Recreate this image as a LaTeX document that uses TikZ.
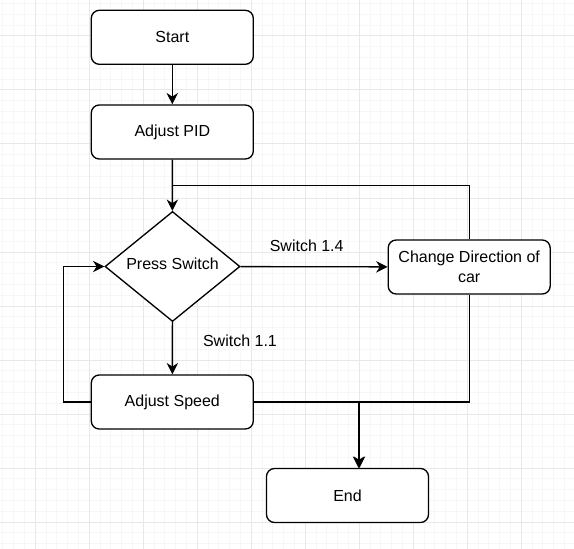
\documentclass[tikz,border=0pt]{standalone}
\usepackage{fontspec}
\setmainfont{Liberation Sans}
\usetikzlibrary{shapes.geometric, arrows.meta}

\begin{document}
\begin{tikzpicture}[x=0.75pt, y=-0.75pt,
    process/.style={draw, line width=1pt, rounded corners=6pt, fill=white,
      minimum width=121.5pt, minimum height=40.5pt, inner sep=0pt, align=center},
    decision/.style={draw, diamond, line width=1pt, fill=white,
      minimum width=101.25pt, minimum height=81pt, inner sep=0pt, text depth=4.5pt},
    flow/.style={line width=1pt, -{Stealth[length=8.5pt, width=8.5pt, inset=2.7pt]}},
    link/.style={line width=1pt},
    gridminor/.style={draw=gray!6, line width=0.75pt},
    gridmajor/.style={draw=gray!18, line width=0.75pt},
    font=\fontsize{12}{15}\selectfont]
    \useasboundingbox [fill=white] (0, 0) rectangle (574, 549);
    % grid
    \foreach \i in {0,...,52} \draw [gridminor] (2.9+10.8*\i, 0) -- (2.9+10.8*\i, 549);
    \foreach \j in {0,...,50} \draw [gridminor] (0, 3.6+10.8*\j) -- (574, 3.6+10.8*\j);
    \foreach \k in {0,...,9} \draw [gridmajor] (35.3+54*\k, 0) -- (35.3+54*\k, 549);
    \foreach \k in {0,...,9} \draw [gridmajor] (0, 36+54*\k) -- (574, 36+54*\k);
    % steps
    \node [process]  (start)  at (172.3, 37.3)  {Start};
    \node [process]  (pid)    at (172.3, 132)   {Adjust PID};
    \node [decision] (press)  at (172.5, 266.5) {Press Switch};
    \node [process]  (change) at (469.2, 267)   {Change Direction of\\car};
    \node [process]  (speed)  at (172.3, 402)   {Adjust Speed};
    \node [process]  (end)    at (347.5, 495.5) {End};
    \coordinate (merge) at (172.5, 185.7);
    \coordinate (endin) at ([xshift=8.25pt]end.north);
    \coordinate (endin2) at ([xshift=9pt]end.north);
    % arrows
    \draw [flow]     (start) -- (pid);
    \draw [flow]     (pid) -- (press);
    \draw [flow]     (press) -- node [pos=0.45, above=11pt, inner sep=0pt] {Switch 1.4} (change);
    \draw [flow]     (press) -- node [pos=0.36, right=22.5pt, inner sep=0pt] {Switch 1.1} (speed);
    \draw [flow]     (speed.west) -- ++(-27, 0) |- (press.west);
    \draw [link]     (change.north) |- (merge);
    \draw [flow]     (speed.east) -| (endin);
    \draw [flow]     (change.south) |- (speed.east -| endin2) -- (endin2);
  \end{tikzpicture}
\end{document}
